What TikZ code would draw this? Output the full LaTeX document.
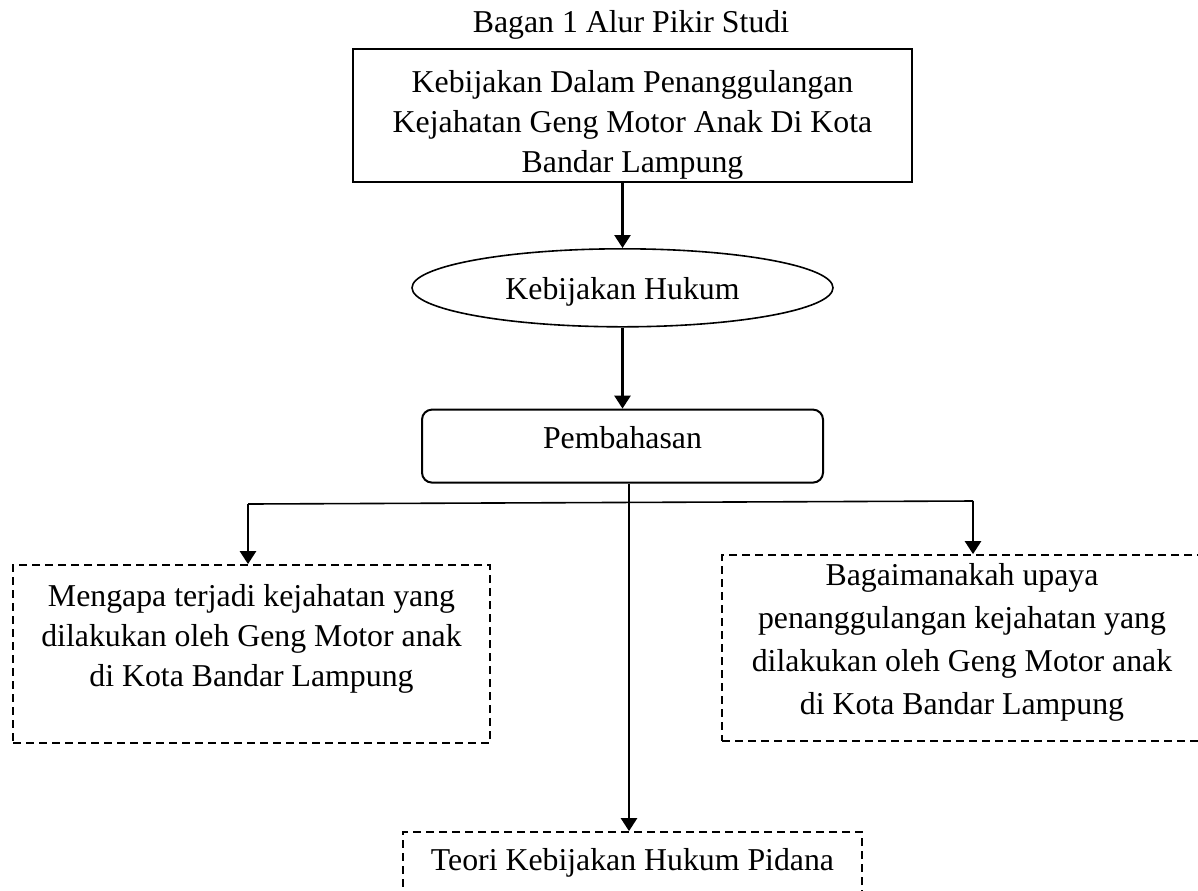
\documentclass[tikz,border=0pt]{standalone}
\usepackage{fontspec}
\setmainfont{Liberation Serif}
\usetikzlibrary{arrows.meta,shapes,positioning}
\tikzset{arrows={-{Triangle[length=6.5pt,width=8pt]}}}
\tikzset{
  kotak/.style={draw, line width=1pt, inner sep=0pt},
  garisputus/.style={draw, line width=0.9pt, dash pattern=on 4pt off 2.5pt,
    inner sep=0pt, align=center},
}

\begin{document}
\begin{tikzpicture}[node distance=2cm, line width=1.3pt,
    font=\fontsize{15.9pt}{20pt}\selectfont]
    \useasboundingbox (0,0) rectangle (599pt,-445pt);
    \node[anchor=base] (judul) at (315.5pt,-16pt) {Bagan 1 Alur Pikir Studi};

    \node[kotak, minimum width=279.5pt, minimum height=66.5pt] (kebijakan) at (316.25pt,-57.75pt) {};
    \begin{scope}
      \clip (kebijakan.south west) rectangle (kebijakan.north east);
      \node[align=center, inner sep=0pt, below=10.6pt of kebijakan.north] (isi)
        {Kebijakan Dalam Penanggulangan\\ Kejahatan Geng Motor Anak Di Kota\\ Bandar Lampung};
    \end{scope}

    \node[kotak, ellipse, line width=0.8pt, minimum width=210.5pt, minimum height=39pt, text height=14.9pt]
      (hukum) [below=32.5pt of kebijakan, xshift=-5pt] {Kebijakan Hukum};
    \node[kotak, rounded corners=5pt, minimum width=200.5pt, minimum height=36.5pt, text depth=9pt]
      (bahas) [below=40.5pt of hukum] {Pembahasan};

    \node[garisputus, minimum width=238.5pt, minimum height=89pt, text depth=19pt]
      (kiri) at (125.75pt,-327pt)
      {Mengapa terjadi kejahatan yang\\ dilakukan oleh Geng Motor anak\\ di Kota Bandar Lampung};
    \node[garisputus, minimum width=240pt, minimum height=93pt, text depth=9.5pt,
      font=\fontsize{15.9pt}{21.5pt}\selectfont]
      (kanan) at (481pt,-324pt)
      {Bagaimanakah upaya\\ penanggulangan kejahatan yang\\ dilakukan oleh Geng Motor anak\\ di Kota Bandar Lampung};
    \node[garisputus, minimum width=229.5pt, minimum height=31pt]
      (teori) at (316.25pt,-431.5pt) {Teori Kebijakan Hukum Pidana};

    \path (kebijakan.south -| hukum.north) edge (hukum.north)
          (hukum) edge (bahas)
          ;
    \draw ([xshift=3.25pt]bahas.south) coordinate (turun) -- (turun |- teori.north);

    \coordinate (cabangkiri) at (124pt,-252pt);
    \coordinate (cabangkanan) at (486.5pt,-250.5pt);
    \draw[-, line width=0.8pt] (cabangkiri) -- (cabangkanan);
    \draw (cabangkiri) -- (cabangkiri |- kiri.north);
    \draw (cabangkanan) -- (cabangkanan |- kanan.north);
\end{tikzpicture}
\end{document}
